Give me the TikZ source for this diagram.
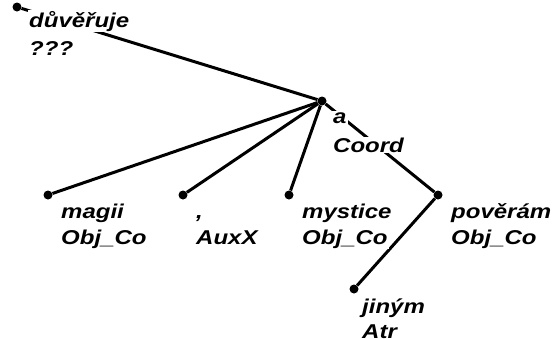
\documentclass[tikz,border=0pt]{standalone}
\usepackage{fontspec}
\setmainfont{Liberation Sans}[FakeStretch=1.2]
\begin{document}
\begin{tikzpicture}[x=1pt,y=-1pt,
  tnode/.style={circle,fill=black,inner sep=0pt,minimum size=9pt},
  edge/.style={line width=3pt},
  lbl/.style={font=\fontsize{20}{26}\selectfont\bfseries\itshape, fill=white, inner sep=1pt, anchor=base west}]
\useasboundingbox (0,0) rectangle (552,338);
\node[tnode] (root) at (17,7) {};
\node[tnode] (a) at (322,101) {};
\node[tnode] (magii) at (48,195) {};
\node[tnode] (comma) at (183,195) {};
\node[tnode] (mystice) at (289,195) {};
\node[tnode] (poveram) at (438,195) {};
\node[tnode] (jinym) at (354,289) {};
\draw[edge] (root) -- (a);
\draw[edge] (a) -- (magii);
\draw[edge] (a) -- (comma);
\draw[edge] (a) -- (mystice);
\draw[edge] (a) -- (poveram);
\draw[edge] (poveram) -- (jinym);
\node[lbl] (rootw) at (28,27) {důvěřuje};
\node[lbl] (roott) at (28,55) {???};
\node[lbl] (aw) at (332,123) {a};
\node[lbl] (at) at (332,152) {Coord};
\node[lbl] (magiiw) at (60,218) {magii};
\node[lbl] (magiit) at (60,244) {Obj\_Co};
\node[lbl] (commaw) at (195,218) {,};
\node[lbl] (commat) at (195,244) {AuxX};
\node[lbl] (mysticew) at (301,218) {mystice};
\node[lbl] (mysticet) at (301,244) {Obj\_Co};
\node[lbl] (poveramw) at (450,218) {pověrám};
\node[lbl] (poveramt) at (450,244) {Obj\_Co};
\node[lbl] (jinymw) at (361,313) {jiným};
\node[lbl] (jinymt) at (361,338) {Atr};
\end{tikzpicture}
\end{document}
